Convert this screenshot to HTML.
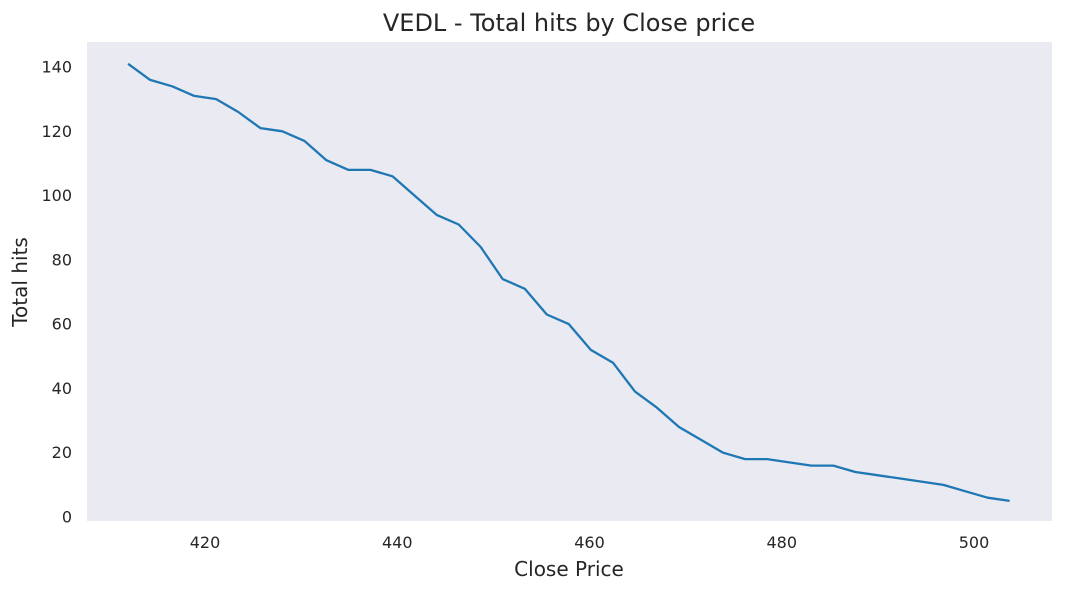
<!DOCTYPE html>
<html><head><meta charset="utf-8"><style>
body{margin:0;background:#fff;font-family:"Liberation Sans","DejaVu Sans",sans-serif}
svg text{font-family:"DejaVu Sans","Liberation Sans",sans-serif;fill:#262626}
</style></head><body>
<svg id="chart" width="1065" height="592" xmlns="http://www.w3.org/2000/svg">
<rect x="87" y="42" width="965" height="479" fill="#eaeaf2"/>
<text x="569" y="31" font-size="24" text-anchor="middle">VEDL - Total hits by Close price</text>
<text x="569" y="576" font-size="20" text-anchor="middle">Close Price</text>
<text x="27" y="282" font-size="20" text-anchor="middle" transform="rotate(-90 27 282)">Total hits</text>
<g id="ticks"></g>
<path id="line" fill="none" stroke="#1f77b4" stroke-width="2.3" stroke-linejoin="round"/>
</svg>
<script>
const prices=[412.00,414.29,416.59,418.88,421.17,423.46,425.76,428.05,430.34,432.63,434.93,437.22,439.51,441.80,444.10,446.39,448.68,450.97,453.27,455.56,457.85,460.14,462.44,464.73,467.02,469.31,471.61,473.90,476.19,478.48,480.78,483.07,485.36,487.65,489.95,492.24,494.53,496.82,499.12,501.41,503.70];
const hits=[141,136,134,131,130,126,121,120,117,111,108,108,106,100,94,91,84,74,71,63,60,52,48,39,34,28,24,20,18,18,17,16,16,14,13,12,11,10,8,6,5];
const xTicks=[420,440,460,480,500];
const yTicks=[0,20,40,60,80,100,120,140];
const X=v=>205+(v-420)*9.6125;
const Y=v=>517-v*3.2143;
const NS="http://www.w3.org/2000/svg";
const g=document.getElementById('ticks');
xTicks.forEach(t=>{const e=document.createElementNS(NS,'text');
e.setAttribute('x',X(t));e.setAttribute('y',548);e.setAttribute('font-size','16');e.setAttribute('text-anchor','middle');e.textContent=t;


g.appendChild(e);});
yTicks.forEach(t=>{const e=document.createElementNS(NS,'text');
e.setAttribute('x',72);e.setAttribute('y',Y(t)+5.5);e.setAttribute('font-size','16');e.setAttribute('text-anchor','end');e.textContent=t;


g.appendChild(e);});
document.getElementById('line').setAttribute('d',prices.map((p,i)=>(i?'L':'M')+X(p).toFixed(1)+','+Y(hits[i]).toFixed(1)).join(''));
</script>
</body></html>
